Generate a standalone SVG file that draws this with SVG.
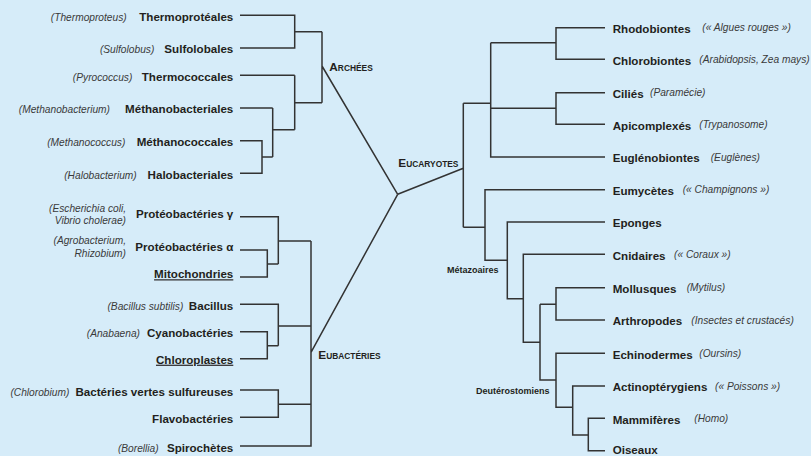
<svg xmlns="http://www.w3.org/2000/svg" width="811" height="456" viewBox="0 0 811 456">
<style>
.b{font-family:"Liberation Sans",Arial,sans-serif;font-weight:bold;font-size:11.6px;fill:#231f20}
.i{font-family:"Liberation Sans",Arial,sans-serif;font-style:italic;font-size:10.2px;fill:#3a3a3a}
.g{font-family:"Liberation Sans",Arial,sans-serif;font-weight:bold;font-size:11.8px;fill:#231f20}
.sc{font-size:8.4px}
.s{font-family:"Liberation Sans",Arial,sans-serif;font-weight:bold;font-size:9px;fill:#231f20}
.e{text-anchor:end}
.u{text-decoration:underline}
#connectors path{fill:none;stroke:#333;stroke-width:1.5}
</style>
<rect width="811" height="456" fill="#d6ecf9"/>
<g id="connectors">
<path d="M240 15.3H294.7V48H240M294.7 31.7H322M240 75.3H294.7M240 108H272.7M240 140.7H262V173.3H240M262 157H272.7M272.7 108V157M272.7 129.7H294.7M294.7 75.3V129.7M294.7 102.7H322M322 31.7V102.7M322 66L397.7 194.3"/>
<path d="M240 216.7H278.3V264M240 250H267.3V277H240M267.3 264H278.3M278.3 241H311M240 304.3H278.3V345.7M240 331.7H267.3V358.7H240M267.3 345.7H278.3M278.3 326H311M240 390H278.3V417.3H240M278.3 404.3H311M240 446H311V241M311 352.3L397.7 194.3"/>
<path d="M397.7 194.3L463.3 168.3M463.3 103.3V227.3M463.3 103.3H490.7M463.3 227.3H485M490.7 42.7V157H605M490.7 42.7H556M490.7 108.3H556M605 27.7H556V59.3H605M605 92.7H556V124.3H605"/>
<path d="M605 189.7H485V260.3H507.3M605 222H507.3V298.7H523.3M605 254.3H523.3V342.3H540M605 287.7H556V320H605M540 304.3H556M540 304.3V380H556M605 353.3H556V407.3H572.7M605 386H572.7V435H588.3M605 418.3H588.3V450.7H605"/>
</g>
<g id="archees"><text class="g" x="329.3" y="70.7">A<tspan class="sc">RCHÉES</tspan></text></g>
<g id="eucaryotes"><text class="g" x="398.3" y="166.7">E<tspan class="sc">UCARYOTES</tspan></text></g>
<g id="eubacteries"><text class="g" x="318.3" y="359">E<tspan class="sc">UBACTÉRIES</tspan></text></g>
<g id="metazoaires"><text class="s" x="447" y="272.7">Métazoaires</text></g>
<g id="deuterostomiens"><text class="s" x="476" y="394">Deutérostomiens</text></g>

<g id="thermoproteales"><text class="i e" x="126.7" y="20.5">(Thermoproteus)</text><text class="b e" x="233.3" y="20.6">Thermoprotéales</text></g>
<g id="sulfolobales"><text class="i e" x="154.3" y="53.2">(Sulfolobus)</text><text class="b e" x="233.3" y="53.3">Sulfolobales</text></g>
<g id="thermococcales"><text class="i e" x="132.3" y="80.5">(Pyrococcus)</text><text class="b e" x="233.3" y="80.6">Thermococcales</text></g>
<g id="methanobacteriales"><text class="i e" x="110" y="113.2">(Methanobacterium)</text><text class="b e" x="233.3" y="113.3">Méthanobacteriales</text></g>
<g id="methanococcales"><text class="i e" x="125.3" y="146">(Methanococcus)</text><text class="b e" x="233.3" y="146">Méthanococcales</text></g>
<g id="halobacteriales"><text class="i e" x="136.7" y="178.6">(Halobacterium)</text><text class="b e" x="233.3" y="178.6">Halobacteriales</text></g>

<g id="proteo-gamma"><text class="i e" x="126" y="211.5">(Escherichia coli,</text><text class="i e" x="126" y="224">Vibrio cholerae)</text><text class="b e" x="233.3" y="218">Protéobactéries γ</text></g>
<g id="proteo-alpha"><text class="i e" x="126" y="244.3">(Agrobacterium,</text><text class="i e" x="126" y="256.7">Rhizobium)</text><text class="b e" x="233.3" y="250.5">Protéobactéries α</text></g>
<g id="mitochondries"><text class="b e u" x="233.3" y="278.3">Mitochondries</text></g>
<g id="bacillus"><text class="i e" x="183.3" y="309.6">(Bacillus subtilis)</text><text class="b e" x="233.3" y="309.8">Bacillus</text></g>
<g id="cyanobacteries"><text class="i e" x="140" y="337">(Anabaena)</text><text class="b e" x="233.3" y="337.1">Cyanobactéries</text></g>
<g id="chloroplastes"><text class="b e u" x="233.3" y="363.7">Chloroplastes</text></g>
<g id="bacteries-vertes"><text class="i e" x="69.3" y="395.5">(Chlorobium)</text><text class="b e" x="233.3" y="395.6">Bactéries vertes sulfureuses</text></g>
<g id="flavobacteries"><text class="b e" x="233.3" y="423">Flavobactéries</text></g>
<g id="spirochetes"><text class="i e" x="158.7" y="451.6">(Borellia)</text><text class="b e" x="233.3" y="451.7">Spirochètes</text></g>

<g id="rhodobiontes"><text class="b" x="612.7" y="32.6">Rhodobiontes</text><text class="i" x="702.3" y="31.1">(« Algues rouges »)</text></g>
<g id="chlorobiontes"><text class="b" x="612.7" y="64.6">Chlorobiontes</text><text class="i" x="699.3" y="62.9">(Arabidopsis, Zea mays)</text></g>
<g id="cilies"><text class="b" x="612.7" y="97.7">Ciliés</text><text class="i" x="650" y="96.2">(Paramécie)</text></g>
<g id="apicomplexes"><text class="b" x="612.7" y="129.6">Apicomplexés</text><text class="i" x="699.3" y="127.8">(Trypanosome)</text></g>
<g id="euglenobiontes"><text class="b" x="612.7" y="162.2">Euglénobiontes</text><text class="i" x="710.7" y="160.5">(Euglènes)</text></g>
<g id="eumycetes"><text class="b" x="612.7" y="194.9">Eumycètes</text><text class="i" x="682.7" y="193.2">(« Champignons »)</text></g>
<g id="eponges"><text class="b" x="612.7" y="227.2">Eponges</text></g>
<g id="cnidaires"><text class="b" x="612.7" y="259.5">Cnidaires</text><text class="i" x="674" y="257.8">(« Coraux »)</text></g>
<g id="mollusques"><text class="b" x="612.7" y="292.9">Mollusques</text><text class="i" x="686.7" y="291.2">(Mytilus)</text></g>
<g id="arthropodes"><text class="b" x="612.7" y="325.2">Arthropodes</text><text class="i" x="691.3" y="323.5">(Insectes et crustacés)</text></g>
<g id="echinodermes"><text class="b" x="612.7" y="358.5">Echinodermes</text><text class="i" x="699.3" y="356.8">(Oursins)</text></g>
<g id="actinopterygiens"><text class="b" x="612.7" y="391.2">Actinoptérygiens</text><text class="i" x="715" y="389.5">(« Poissons »)</text></g>
<g id="mammiferes"><text class="b" x="612.7" y="423.5">Mammifères</text><text class="i" x="694.3" y="421.8">(Homo)</text></g>
<g id="oiseaux"><text class="b" x="612.7" y="453.6">Oiseaux</text></g>
</svg>
